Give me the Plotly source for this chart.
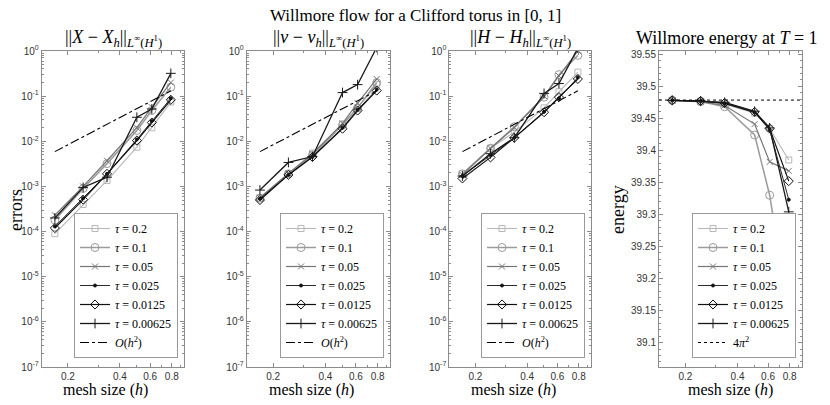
import plotly.graph_objects as go
import numpy as np

# mesh sizes (same for all runs)
H_MESH = [0.168, 0.245, 0.337, 0.502, 0.613, 0.790]
TAUS = ["0.2", "0.1", "0.05", "0.025", "0.0125", "0.00625"]

# ||X - X_h|| in L^inf(H^1)
ERR_X = {
    "0.2":     [9.0e-5, 4.0e-4, 1.35e-3, 7.4e-3, 2.0e-2, 7.4e-2],
    "0.1":     [1.8e-4, 9.0e-4, 3.2e-3, 1.74e-2, 4.8e-2, 1.58e-1],
    "0.05":    [2.3e-4, 1.0e-3, 3.7e-3, 2.0e-2, 5.7e-2, 2.0e-1],
    "0.025":   [1.3e-4, 5.5e-4, 1.9e-3, 1.1e-2, 2.8e-2, 9.0e-2],
    "0.0125":  [1.2e-4, 5.1e-4, 1.9e-3, 1.04e-2, 2.6e-2, 8.3e-2],
    "0.00625": [2.0e-4, 9.5e-4, 1.6e-3, 3.4e-2, 5.2e-2, 3.2e-1],
}
# ||nu - nu_h||
ERR_NU = {
    "0.2":     [5.5e-4, 1.9e-3, 5.5e-3, 2.4e-2, 5.5e-2, 1.8e-1],
    "0.1":     [5.5e-4, 1.9e-3, 5.0e-3, 2.3e-2, 5.5e-2, 2.0e-1],
    "0.05":    [5.6e-4, 1.95e-3, 5.2e-3, 2.5e-2, 7.0e-2, 2.4e-1],
    "0.025":   [5.3e-4, 1.8e-3, 4.6e-3, 2.0e-2, 5.0e-2, 1.4e-1],
    "0.0125":  [5.0e-4, 1.8e-3, 4.5e-3, 1.9e-2, 4.8e-2, 1.33e-1],
    "0.00625": [8.3e-4, 3.4e-3, 4.6e-3, 1.2e-1, 1.8e-1, 1.2],
}
# ||H - H_h||
ERR_H = {
    "0.2":     [1.9e-3, 7.0e-3, 1.6e-2, 5.5e-2, 1.25e-1, 3.4e-1],
    "0.1":     [1.9e-3, 7.0e-3, 2.1e-2, 9.5e-2, 3.0e-1, 8.0e-1],
    "0.05":    [1.8e-3, 7.0e-3, 2.0e-2, 1.0e-1, 2.8e-1, 1.0],
    "0.025":   [1.7e-3, 5.0e-3, 1.2e-2, 4.5e-2, 9.0e-2, 2.6e-1],
    "0.0125":  [1.5e-3, 4.4e-3, 1.2e-2, 4.4e-2, 9.5e-2, 2.4e-1],
    "0.00625": [1.7e-3, 5.3e-3, 1.2e-2, 1.15e-1, 1.9e-1, 1.15],
}
# Willmore energy at T = 1
ENERGY = {
    "0.2":     [39.478, 39.477, 39.472, 39.458, 39.434, 39.385],
    "0.1":     [39.478, 39.476, 39.468, 39.424, 39.330, 39.143],
    "0.05":    [39.478, 39.476, 39.470, 39.441, 39.382, 39.368],
    "0.025":   [39.478, 39.477, 39.473, 39.459, 39.432, 39.323],
    "0.0125":  [39.478, 39.477, 39.474, 39.460, 39.434, 39.352],
    "0.00625": [39.478, 39.477, 39.475, 39.461, 39.435, 39.304],
}
REF_H2 = [0.0059, 0.0126, 0.0238, 0.053, 0.079, 0.131]
FOUR_PI_SQ = 4 * np.pi ** 2

STYLE = {
    "0.2":     dict(color="#b8b8b8", width=1.1, symbol="square-open", size=6),
    "0.1":     dict(color="#9a9a9a", width=1.5, symbol="circle-open", size=8),
    "0.05":    dict(color="#767676", width=1.2, symbol="x-thin-open", size=6),
    "0.025":   dict(color="#111111", width=0.9, symbol="circle", size=3),
    "0.0125":  dict(color="#111111", width=1.2, symbol="diamond-open", size=7),
    "0.00625": dict(color="#1a1a1a", width=1.3, symbol="cross-thin-open", size=7),
}

# the page body adds an 8px margin, so the figure is 8px smaller and
# every screen position below is shifted by that offset
OFF = 8
W, Hpx = 830 - OFF, 405 - OFF
SERIF = "Liberation Serif"
SANS = "Liberation Sans"
AX_COL = "#8c8c8c"


def px(x):
    return (x - OFF) / W


def py(y):
    return 1 - (y - OFF) / Hpx


# axis boxes in screen pixels (left, right)
BOXES = [(41.7, 184), (246.7, 390), (449.3, 591), (659, 802)]
TOP, BOTTOM = 51, 367

fig = go.Figure()

panels = [ERR_X, ERR_NU, ERR_H, ENERGY]
for p, data in enumerate(panels):
    ax = "" if p == 0 else str(p + 1)
    leg = "legend" if p == 0 else f"legend{p + 1}"
    for tau in TAUS:
        s = STYLE[tau]
        fig.add_trace(go.Scatter(
            x=H_MESH, y=data[tau], mode="lines+markers",
            name=f"<i>τ</i> = {tau}",
            line=dict(color=s["color"], width=s["width"]),
            marker=dict(symbol=s["symbol"], size=s["size"], color=s["color"],
                        line=dict(color=s["color"], width=1.0)),
            xaxis="x" + ax, yaxis="y" + ax, legend=leg))
    if p < 3:
        fig.add_trace(go.Scatter(
            x=H_MESH, y=REF_H2, mode="lines", name="<i>O</i>(<i>h</i><sup>2</sup>)",
            line=dict(color="black", width=1.1, dash="dashdot"),
            xaxis="x" + ax, yaxis="y" + ax, legend=leg))
    else:
        fig.add_trace(go.Scatter(
            x=[None], y=[None], mode="lines", name="4<i>π</i><sup>2</sup>",
            line=dict(color="black", width=1, dash="dot"),
            xaxis="x" + ax, yaxis="y" + ax, legend=leg))

x_minor = [0.2, 0.3, 0.4, 0.5, 0.6, 0.7, 0.8, 0.9]
y_major = [10.0 ** e for e in range(-7, 1)]
y_text = [f"10<sup>{e}</sup>" for e in range(-7, 1)]
y_minor = [k * 10.0 ** e for e in range(-7, 0) for k in range(2, 10)]

layout = dict(width=W, height=Hpx, margin=dict(l=0, r=0, t=0, b=0, autoexpand=False),
              plot_bgcolor="white", paper_bgcolor="white", showlegend=True)
for p, (l, r) in enumerate(BOXES):
    ax = "" if p == 0 else str(p + 1)
    xa = dict(domain=[px(l), px(r)], type="log", range=[-0.851, -0.026],
              tickvals=[0.2, 0.4, 0.6, 0.8], ticktext=["0.2", "0.4", "0.6", "0.8"],
              ticks="inside", ticklen=4, tickcolor=AX_COL, showline=True,
              linecolor=AX_COL, mirror="ticks", showgrid=False, zeroline=False,
              automargin=False,
              tickfont=dict(family=SANS, size=10, color="#333333"),
              minor=dict(tickvals=x_minor, ticks="inside", ticklen=2, tickcolor=AX_COL),
              anchor="y" + ax)
    ya = dict(domain=[py(BOTTOM), py(TOP)], ticks="inside", ticklen=4,
              tickcolor=AX_COL, showline=True, linecolor=AX_COL, mirror="ticks",
              showgrid=False, zeroline=False, automargin=False,
              tickfont=dict(family=SANS, size=10, color="#333333"),
              anchor="x" + ax)
    if p < 3:
        ya.update(type="log", range=[-7, 0], tickvals=y_major, ticktext=y_text,
                  minor=dict(tickvals=y_minor, ticks="inside", ticklen=2, tickcolor=AX_COL))
    else:
        ya.update(range=[39.062, 39.555], tick0=39.1, dtick=0.05,
                  minor=dict(ticks="inside", ticklen=2, tickcolor=AX_COL))
    layout["xaxis" + ax] = xa
    layout["yaxis" + ax] = ya
    leg = "legend" if p == 0 else f"legend{p + 1}"
    layout[leg] = dict(x=px(r - 6), y=py(358), xanchor="right", yanchor="bottom",
                       bgcolor="white", bordercolor="#9a9a9a", borderwidth=1,
                       font=dict(family=SERIF, size=12, color="black"),
                       tracegroupgap=0, itemwidth=30)

fig.update_layout(**layout)

# 4 pi^2 reference across the whole energy axis
fig.add_shape(type="line", xref="x4 domain", yref="y4", x0=0, x1=1,
              y0=FOUR_PI_SQ, y1=FOUR_PI_SQ, line=dict(color="black", width=1, dash="dot"))

titles = [
    "||<i>X</i> − <i>X<sub>h</sub></i>||<sub><i>L</i><sup>∞</sup>(<i>H</i><sup>1</sup>)</sub>",
    "||<i>ν</i> − <i>ν<sub>h</sub></i>||<sub><i>L</i><sup>∞</sup>(<i>H</i><sup>1</sup>)</sub>",
    "||<i>H</i> − <i>H<sub>h</sub></i>||<sub><i>L</i><sup>∞</sup>(<i>H</i><sup>1</sup>)</sub>",
    "Willmore energy at <i>T</i> = 1",
]
title_x = [113, 318, 520, 727]
xlab_centers = [105, 311, 513, 730]


def label(text, x, y, size, angle=0):
    fig.add_annotation(text=text, x=px(x), y=py(y), xref="paper", yref="paper",
                       showarrow=False, xanchor="center", yanchor="middle",
                       textangle=angle, font=dict(family=SERIF, size=size, color="black"))


for p in range(4):
    label(titles[p], title_x[p], 38, 18)
    label("mesh size (<i>h</i>)", xlab_centers[p], 390, 16)

label("Willmore flow for a Clifford torus in [0, 1]", 415, 16, 17)
label("errors", 16, 210, 18, -90)
label("energy", 618, 210, 18, -90)

fig.write_html("out.html")
